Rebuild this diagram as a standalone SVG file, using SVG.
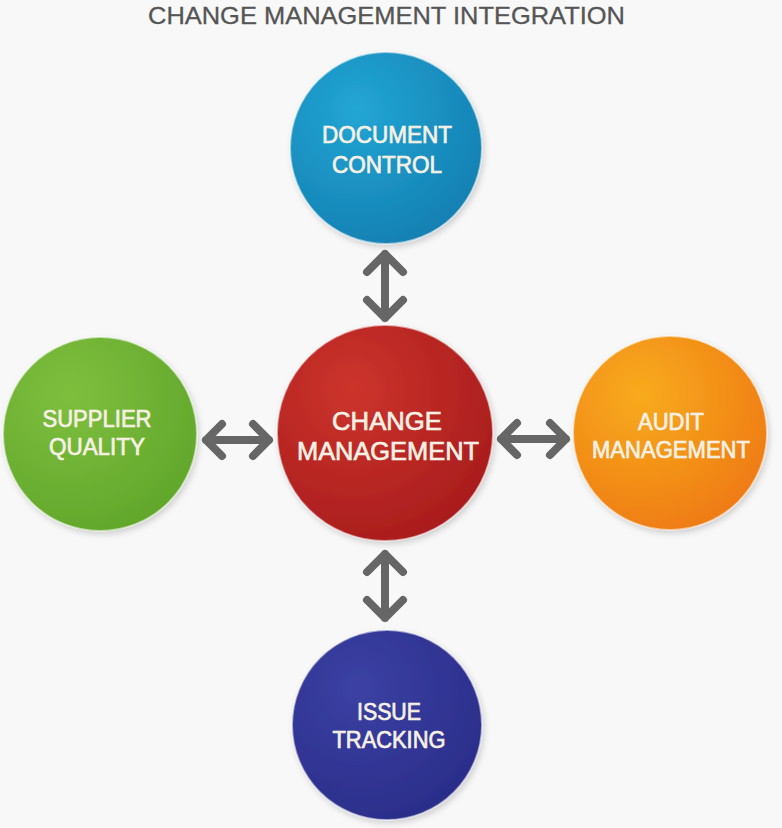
<svg xmlns="http://www.w3.org/2000/svg" width="782" height="828" viewBox="0 0 782 828">
<defs>
<style>
.title{font-family:"Liberation Sans",Arial,sans-serif;font-size:24px;fill:#555;stroke:#555;stroke-width:0.3;}
.lbl{font-family:"Liberation Sans",Arial,sans-serif;font-size:23px;fill:#f6f1e4;stroke:#f6f1e4;stroke-width:0.7;text-anchor:middle;}
.big{font-size:26px;}
.arr{fill:none;stroke:#666;stroke-width:8;stroke-linecap:round;stroke-linejoin:round;}
.ring{fill:none;stroke:#fff;stroke-opacity:0.55;stroke-width:2;}
</style>
<radialGradient id="gBlue" cx="0.35" cy="0.3" r="0.8"><stop offset="0" stop-color="#22a6d4"/><stop offset="1" stop-color="#137db0"/></radialGradient>
<radialGradient id="gRed" cx="0.35" cy="0.3" r="0.8"><stop offset="0" stop-color="#cc342c"/><stop offset="1" stop-color="#a71b1c"/></radialGradient>
<radialGradient id="gGreen" cx="0.35" cy="0.3" r="0.8"><stop offset="0" stop-color="#7fbf3e"/><stop offset="1" stop-color="#5fa52a"/></radialGradient>
<radialGradient id="gOrange" cx="0.35" cy="0.3" r="0.8"><stop offset="0" stop-color="#f8ab1e"/><stop offset="1" stop-color="#ee7813"/></radialGradient>
<radialGradient id="gIndigo" cx="0.35" cy="0.3" r="0.8"><stop offset="0" stop-color="#3b41a3"/><stop offset="1" stop-color="#2a2c88"/></radialGradient>
<filter id="sh" x="-20%" y="-20%" width="140%" height="140%"><feDropShadow dx="2" dy="3" stdDeviation="3" flood-color="#000" flood-opacity="0.18"/></filter>
</defs>
<rect width="782" height="828" fill="#f8f8f8"/>
<text class="title" x="148" y="24" textLength="477" lengthAdjust="spacingAndGlyphs">CHANGE MANAGEMENT INTEGRATION</text>

<g id="connectors">
<g id="arrow-top"><path class="arr" d="M385 254 V318 M367 272 L385 254 L403 272 M367 300 L385 318 L403 300"/></g>
<g id="arrow-bottom"><path class="arr" d="M385 554 V618 M367 572 L385 554 L403 572 M367 600 L385 618 L403 600"/></g>
<g id="arrow-left"><path class="arr" d="M206 440 H269 M222 424 L206 440 L222 456 M253 424 L269 440 L253 456"/></g>
<g id="arrow-right"><path class="arr" d="M501 439 H566 M517 423 L501 439 L517 455 M550 423 L566 439 L550 455"/></g>
</g>

<g id="node-document-control">
<circle cx="386" cy="148" r="96" fill="url(#gBlue)" filter="url(#sh)"/>
<circle class="ring" cx="386" cy="148" r="96"/>
<text class="lbl" x="387" y="143" textLength="130" lengthAdjust="spacingAndGlyphs">DOCUMENT</text>
<text class="lbl" x="387" y="173" textLength="110" lengthAdjust="spacingAndGlyphs">CONTROL</text>
</g>

<g id="node-change-management">
<circle cx="385" cy="433" r="108" fill="url(#gRed)" filter="url(#sh)"/>
<circle class="ring" cx="385" cy="433" r="108"/>
<text class="lbl big" x="387" y="430" textLength="110" lengthAdjust="spacingAndGlyphs">CHANGE</text>
<text class="lbl big" x="388" y="460" textLength="182" lengthAdjust="spacingAndGlyphs">MANAGEMENT</text>
</g>

<g id="node-supplier-quality">
<circle cx="100" cy="434" r="97" fill="url(#gGreen)" filter="url(#sh)"/>
<circle class="ring" cx="100" cy="434" r="97"/>
<text class="lbl" x="97" y="427" textLength="109" lengthAdjust="spacingAndGlyphs">SUPPLIER</text>
<text class="lbl" x="97" y="455" textLength="96" lengthAdjust="spacingAndGlyphs">QUALITY</text>
</g>

<g id="node-audit-management">
<circle cx="670" cy="433" r="97" fill="url(#gOrange)" filter="url(#sh)"/>
<circle class="ring" cx="670" cy="433" r="97"/>
<text class="lbl" x="671" y="430" textLength="66" lengthAdjust="spacingAndGlyphs">AUDIT</text>
<text class="lbl" x="671" y="458" textLength="158" lengthAdjust="spacingAndGlyphs">MANAGEMENT</text>
</g>

<g id="node-issue-tracking">
<circle cx="387" cy="725" r="95" fill="url(#gIndigo)" filter="url(#sh)"/>
<circle class="ring" cx="387" cy="725" r="95"/>
<text class="lbl" x="389" y="720" textLength="64" lengthAdjust="spacingAndGlyphs">ISSUE</text>
<text class="lbl" x="389" y="748" textLength="113" lengthAdjust="spacingAndGlyphs">TRACKING</text>
</g>
</svg>
